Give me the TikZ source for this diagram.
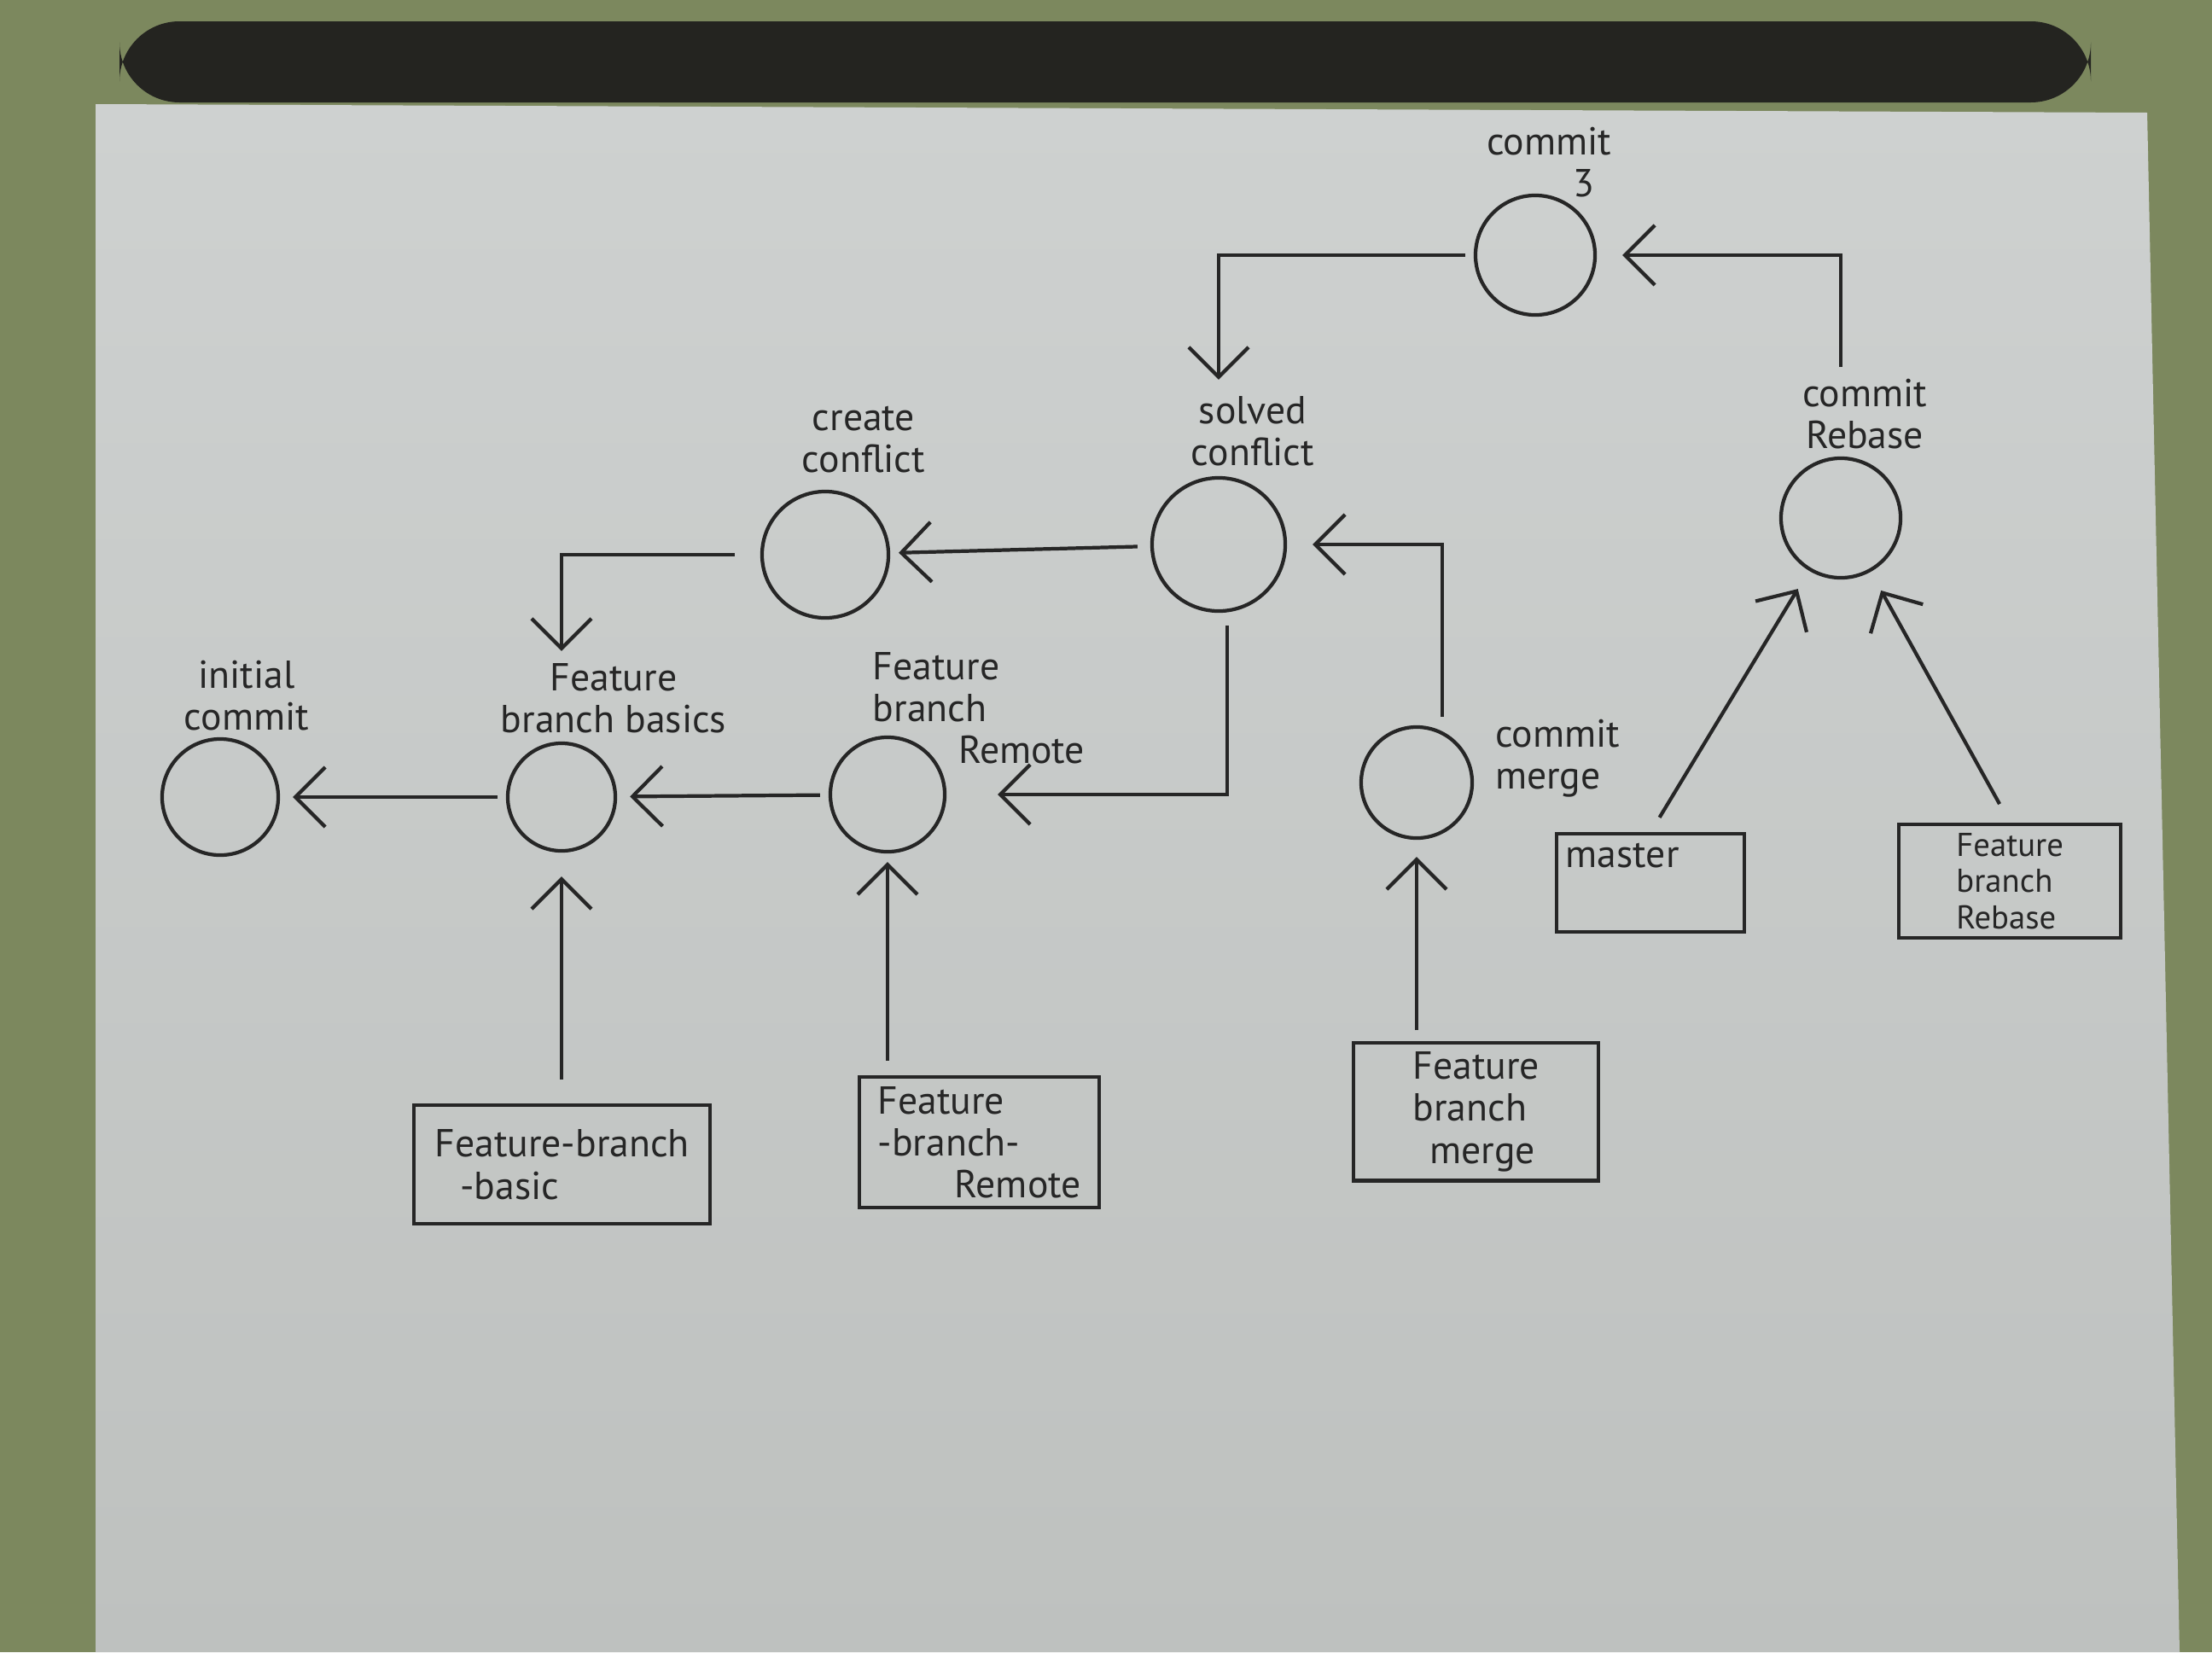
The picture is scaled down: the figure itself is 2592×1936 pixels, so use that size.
\documentclass[tikz,border=0pt]{standalone}
\usepackage{fontspec}
\setmainfont{PT Sans}
\usetikzlibrary{arrows.meta,positioning}

\definecolor{cloth}{RGB}{124,136,94}
\definecolor{paperhi}{RGB}{206,209,208}
\definecolor{paperlo}{RGB}{190,193,191}
\definecolor{binding}{RGB}{36,36,32}
\definecolor{ink}{RGB}{38,38,38}

\tikzset{
  commit/.style={circle, draw=ink, line width=1.2pt, minimum size=1.36cm, inner sep=0pt},
  lbl/.style={text=ink, align=center, font=\fontsize{13}{14}\selectfont, inner sep=1pt},
  branchbox/.style={rectangle, draw=ink, line width=1.2pt, anchor=north west, align=left,
    text=ink, font=\fontsize{13}{14}\selectfont, inner sep=3pt},
  link/.style={draw=ink, line width=1.2pt, ->},
}

\begin{document}
\begin{tikzpicture}[x=0.01cm, y=-0.01cm, >={Straight Barb[length=3.5mm, width=7mm]}]

	\useasboundingbox (0,0) rectangle (2592,1936);

	% photo background
	\fill[cloth] (0,0) rectangle (2592,1936);
	\fill[binding, rounded corners=20pt] (140,25) rectangle (2450,120);
	\shade[top color=paperhi, bottom color=paperlo] (112,122) -- (2516,132) -- (2554,1936) -- (112,1936) -- cycle;

	% commits
	\node[commit] (init) at (258,934) {};
	\node[commit, minimum size=1.26cm] (basics) at (658,934) {};
	\node[commit, minimum size=1.34cm] (remote) at (1040,931) {};
	\node[commit, minimum size=1.48cm] (create) at (967,650) {};
	\node[commit, minimum size=1.56cm] (solved) at (1428,638) {};
	\node[commit, minimum size=1.40cm] (c3) at (1799,299) {};
	\node[commit, minimum size=1.40cm] (rebase) at (2157,607) {};
	\node[commit, minimum size=1.30cm] (merge) at (1660,917) {};

	% commit labels
	\node[lbl] (init-lbl) at (289,815) {initial\\commit};
	\node[lbl] (basics-lbl) at (719,818) {Feature\\branch basics};
	\node[lbl, align=left] (remote-lbl) at (1147,830) {Feature\\branch\\\hspace*{1cm}Remote};
	\node[lbl] (create-lbl) at (1012,515) {create\\conflict};
	\node[lbl] (solved-lbl) at (1468,505) {solved\\conflict};
	\node[lbl, align=right] (c3-lbl) at (1815,190) {commit\\3\hspace*{2mm}};
	\node[lbl] (rebase-lbl) at (2185,485) {commit\\Rebase};
	\node[lbl, align=left] (merge-lbl) at (1825,889) {commit\\merge};

	% branches
	\node[branchbox, minimum width=3.47cm, minimum height=1.39cm] (bbasic) at (483,1293) {Feature-branch\\\hspace*{0.3cm}-basic};
	\node[branchbox, minimum width=2.81cm, minimum height=1.53cm] (bremote) at (1005,1260) {Feature\\-branch-\\\hspace*{0.9cm}Remote};
	\node[branchbox, minimum width=2.87cm, minimum height=1.44cm] (bmerge) at (1584,1220) {Feature\\branch\\\hspace*{0.2cm}merge};
	\node[branchbox, text width=1.99cm, text depth=6.5mm] (bmaster) at (1822,975) {master};
	\node[branchbox, minimum width=2.60cm, minimum height=1.22cm, font=\fontsize{11}{12}\selectfont] (brebase) at (2223,964) {Feature\\branch\\Rebase};

	% history
	\draw[link, shorten <=1mm, shorten >=1.5mm] (basics) -- (init);
	\draw[link, shorten <=1mm, shorten >=1.5mm] (remote) -- (basics);
	\draw[link, shorten <=1.5mm, shorten >=1mm] (solved) -- (create);
	\draw[link, shorten <=3mm, shorten >=1mm] (create.west) -| (basics |- basics-lbl.north);
	\draw[link, shorten <=1.5mm, shorten >=6mm] ([xshift=1mm]solved.south) |- (remote.east);
	\draw[link, shorten <=1mm, shorten >=1.5mm] (c3.west) -| (solved |- solved-lbl.north);
	\draw[link, shorten <=1mm, shorten >=3mm] (rebase |- rebase-lbl.north) |- (c3.east);
	\draw[link, shorten <=1mm, shorten >=3mm] ([xshift=3mm]merge.north) |- (solved.east);

	% branch pointers
	\draw[link, shorten <=2.8mm, shorten >=2.8mm] (basics |- bbasic.north) -- (basics);
	\draw[link, shorten <=1.7mm, shorten >=1mm] (remote |- bremote.north) -- (remote);
	\draw[link, shorten <=1.3mm, shorten >=2mm] (merge |- bmerge.north) -- (merge);
	\draw[link, shorten <=2mm, shorten >=2.5mm] (bmaster.north) -- (rebase);
	\draw[link, shorten <=2.5mm, shorten >=2.5mm] (brebase.north) -- (rebase);

\end{tikzpicture}
\end{document}
